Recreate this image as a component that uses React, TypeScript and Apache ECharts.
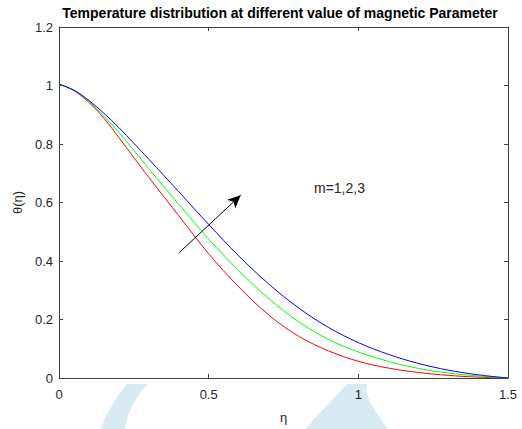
import React, { useEffect, useRef } from "react";
import * as echarts from "echarts";

const etaValues = [0, 0.05, 0.1, 0.15, 0.2, 0.3, 0.4, 0.5, 0.6, 0.7, 0.8, 0.9, 1.0, 1.1, 1.2, 1.3, 1.4, 1.5];
const thetaM1 = [1.005, 0.982, 0.942, 0.888, 0.822, 0.686, 0.555, 0.425, 0.312, 0.216, 0.143, 0.093, 0.057, 0.034, 0.019, 0.009, 0.003, 0];
const thetaM2 = [1.005, 0.983, 0.946, 0.895, 0.840, 0.716, 0.594, 0.475, 0.368, 0.272, 0.193, 0.132, 0.089, 0.057, 0.033, 0.017, 0.007, 0];
const thetaM3 = [1.005, 0.984, 0.949, 0.905, 0.856, 0.748, 0.637, 0.525, 0.418, 0.322, 0.240, 0.173, 0.121, 0.081, 0.050, 0.027, 0.011, 0];
const seriesNames = ["m=1", "m=2", "m=3"];
const seriesColors = ["#ff0000", "#00ff00", "#0000ff"];
const arrowStart = [0.4, 0.427];
const arrowEnd = [0.607, 0.625];
const annotationText = "m=1,2,3";
const titleText = "Temperature distribution at different value of magnetic Parameter";

const FONT = "'Liberation Sans', Arial, sans-serif";
const AXIS_COLOR = "#404040";
const TEXT_COLOR = "#262626";

export default function App() {
  const ref = useRef<HTMLDivElement>(null);
  useEffect(() => {
    document.body.style.margin = "0";
    const chart = echarts.init(ref.current!, undefined, { renderer: "svg" });
    const allSeries = [thetaM1, thetaM2, thetaM3];
    const series: any[] = allSeries.map((vals, i) => ({
      name: seriesNames[i],
      type: "line",
      data: etaValues.map((x, j) => [x, vals[j]]),
      showSymbol: false,
      smooth: 0.35,
      lineStyle: { color: seriesColors[i], width: 1 },
      itemStyle: { color: seriesColors[i] },
      z: 3,
    }));
    series.push({
      type: "line",
      data: [],
      markLine: {
        silent: true,
        symbol: ["none", "arrow"],
        symbolSize: [9, 13],
        label: { show: false },
        lineStyle: { color: "#000", width: 1, type: "solid" },
        data: [[{ coord: arrowStart }, { coord: arrowEnd }]],
      },
    });
    const axisCommon = {
      type: "value",
      axisLine: { show: true, onZero: false, lineStyle: { color: AXIS_COLOR, width: 1 } },
      axisTick: { show: true, inside: true, length: 4, lineStyle: { color: AXIS_COLOR } },
      splitLine: { show: false },
    };
    chart.setOption({
      animation: false,
      backgroundColor: "#ffffff",
      textStyle: { fontFamily: FONT },
      grid: { left: 59, width: 449, top: 27, height: 357, containLabel: false },
      xAxis: [
        {
          ...axisCommon,
          position: "bottom",
          min: 0,
          max: 1.5,
          interval: 0.5,
          name: "η",
          nameLocation: "middle",
          nameGap: 33,
          nameTextStyle: { fontFamily: FONT, fontSize: 13, color: TEXT_COLOR },
          axisLabel: { fontFamily: FONT, fontSize: 13, color: TEXT_COLOR, margin: 10 },
        },
        {
          ...axisCommon,
          position: "top",
          min: 0,
          max: 1.5,
          interval: 0.5,
          axisLabel: { show: false },
        },
      ],
      yAxis: [
        {
          ...axisCommon,
          position: "left",
          min: 0,
          max: 1.2,
          interval: 0.2,
          name: "θ(η)",
          nameLocation: "middle",
          nameGap: 27,
          nameRotate: 90,
          nameTextStyle: { fontFamily: FONT, fontSize: 13, color: TEXT_COLOR },
          axisLabel: { fontFamily: FONT, fontSize: 13, color: TEXT_COLOR, margin: 6 },
        },
        {
          ...axisCommon,
          position: "right",
          min: 0,
          max: 1.2,
          interval: 0.2,
          axisLabel: { show: false },
        },
      ],
      graphic: [
        {
          type: "polygon",
          z: -10,
          silent: true,
          shape: {
            points: [[127, 384], [148, 384], [140, 393], [133, 404], [128, 416], [125, 429], [100, 429], [108, 412], [117, 397]],
          },
          style: { fill: "#d8ebf2" },
        },
        {
          type: "polygon",
          z: -10,
          silent: true,
          shape: {
            points: [[347, 384], [367, 384], [366, 392], [370, 402], [378, 415], [388, 429], [305, 429]],
          },
          style: { fill: "#d8ebf2" },
        },
        {
          type: "text",
          x: 280,
          y: 13,
          silent: true,
          style: {
            text: titleText,
            fontFamily: FONT,
            fontSize: 14,
            fontWeight: "bold",
            fill: "#000",
            align: "center",
            verticalAlign: "middle",
          },
        },
        {
          type: "text",
          x: 314,
          y: 188,
          silent: true,
          style: {
            text: annotationText,
            fontFamily: FONT,
            fontSize: 14,
            fill: TEXT_COLOR,
            align: "left",
            verticalAlign: "middle",
          },
        },
      ],
      series,
    });
    return () => chart.dispose();
  }, []);
  return <div ref={ref} style={{ width: 522, height: 429 }} />;
}
